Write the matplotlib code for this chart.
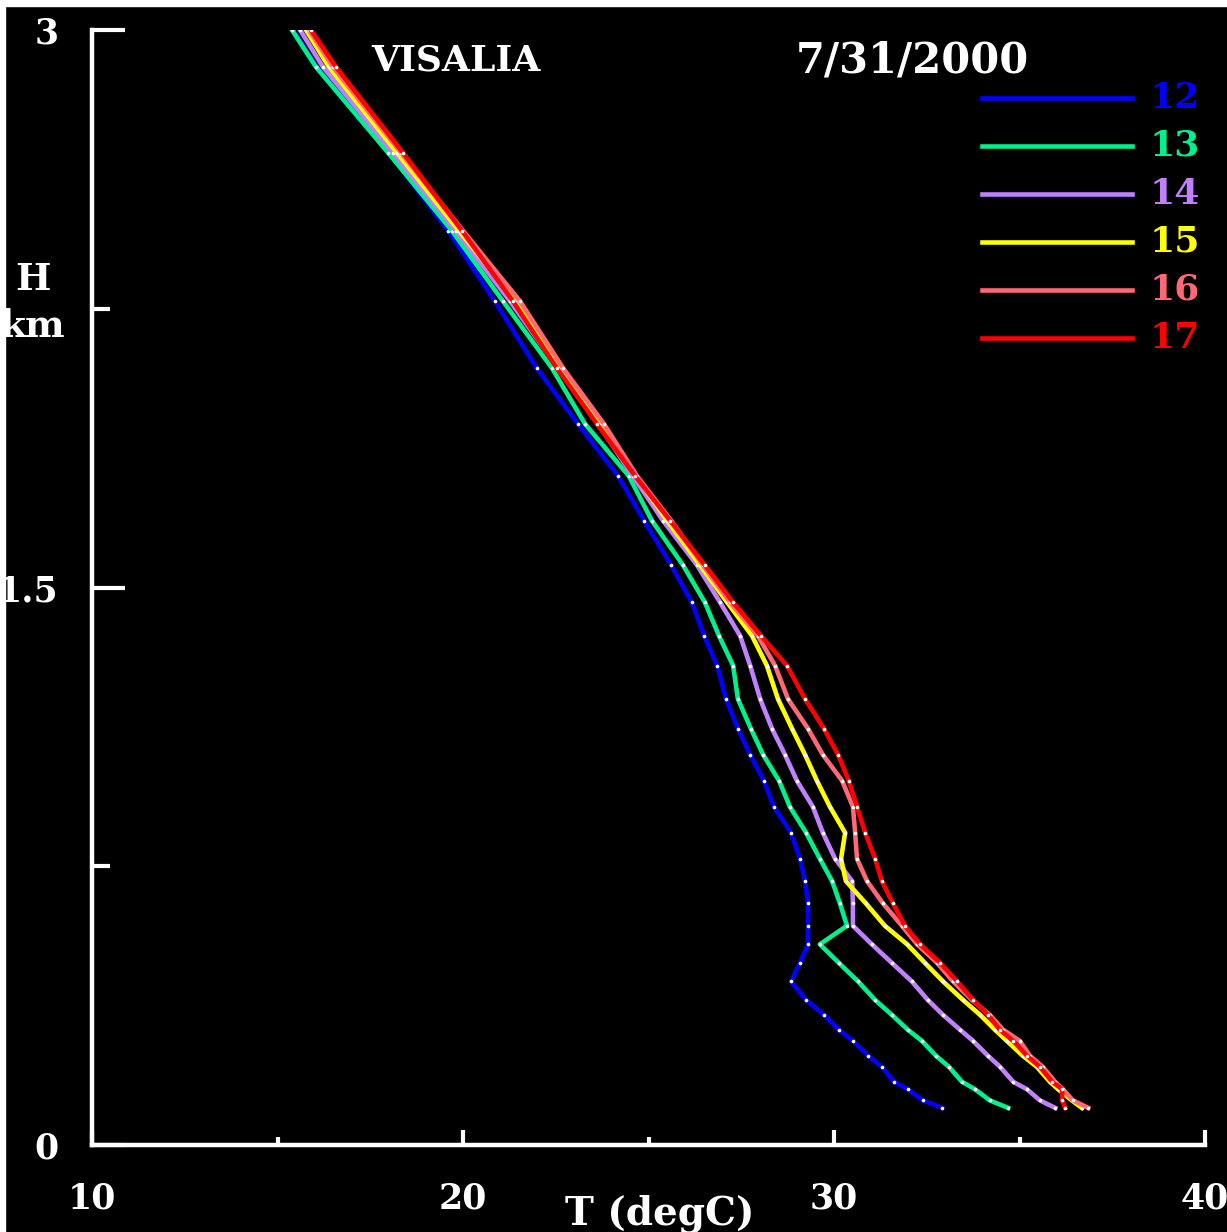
import matplotlib
matplotlib.use("Agg")
import matplotlib.pyplot as plt
from matplotlib.patches import Rectangle

# Heights of the profile levels (km), bottom to top
height = [0.10, 0.12, 0.15, 0.17, 0.21, 0.24, 0.28, 0.31, 0.35, 0.39,
          0.44, 0.49, 0.54, 0.59, 0.65, 0.71, 0.77, 0.84, 0.91, 0.98,
          1.05, 1.12, 1.20, 1.29, 1.37, 1.46, 1.56, 1.68, 1.80, 1.94,
          2.09, 2.27, 2.46, 2.67, 2.90, 3.00]

# Temperature (degC) at each level, one profile per hour
t12 = [32.91, 32.40, 31.99, 31.62, 31.29, 30.92, 30.51, 30.13, 29.73, 29.25,
       28.84, 29.08, 29.30, 29.30, 29.30, 29.22, 29.08, 28.84, 28.38, 28.11,
       27.74, 27.41, 27.09, 26.85, 26.50, 26.17, 25.61, 24.88, 24.18, 23.10,
       21.99, 20.86, 19.60, 18.01, 16.06, 15.42]
t13 = [34.69, 34.20, 33.80, 33.45, 33.10, 32.75, 32.37, 31.99, 31.56, 31.11,
       30.65, 30.13, 29.62, 30.35, 30.16, 29.95, 29.62, 29.25, 28.81, 28.52,
       28.09, 27.76, 27.41, 27.28, 26.90, 26.52, 25.93, 25.09, 24.47, 23.29,
       22.40, 21.08, 19.70, 17.98, 16.04, 15.39]
t14 = [35.96, 35.55, 35.20, 34.83, 34.48, 34.15, 33.75, 33.40, 32.94, 32.53,
       32.10, 31.56, 31.02, 30.51, 30.51, 30.49, 30.03, 29.70, 29.43, 29.00,
       28.68, 28.33, 28.01, 27.74, 27.47, 26.93, 26.31, 25.39, 24.58, 23.64,
       22.56, 21.27, 19.81, 18.11, 16.23, 15.61]
t15 = [36.68, 36.41, 36.04, 35.82, 35.47, 35.09, 34.66, 34.34, 33.94, 33.48,
       32.94, 32.45, 31.97, 31.37, 30.86, 30.32, 30.19, 30.30, 29.89, 29.54,
       29.22, 28.87, 28.49, 28.19, 27.79, 27.12, 26.39, 25.50, 24.66, 23.69,
       22.61, 21.43, 19.89, 18.22, 16.39, 15.77]
t16 = [36.85, 36.44, 36.17, 35.96, 35.63, 35.28, 35.01, 34.56, 34.20, 33.72,
       33.21, 32.78, 32.24, 31.83, 31.32, 30.89, 30.62, 30.57, 30.51, 30.22,
       29.70, 29.30, 28.76, 28.41, 27.95, 27.20, 26.47, 25.61, 24.69, 23.80,
       22.70, 21.54, 20.00, 18.33, 16.50, 15.85]
t17 = [36.23, 36.15, 36.15, 35.88, 35.55, 35.20, 34.83, 34.47, 34.15, 33.75,
       33.32, 32.86, 32.32, 31.91, 31.59, 31.29, 31.11, 30.84, 30.62, 30.40,
       30.11, 29.73, 29.22, 28.73, 28.03, 27.28, 26.52, 25.58, 24.64, 23.61,
       22.53, 21.35, 19.97, 18.38, 16.58, 15.90]

hours = ["12", "13", "14", "15", "16", "17"]
profiles = [t12, t13, t14, t15, t16, t17]
colors = ["#0000ff", "#00f08c", "#c080ff", "#ffff00", "#ff6874", "#ff0000"]

plt.rcParams["font.family"] = "DejaVu Serif"
plt.rcParams["font.weight"] = "bold"
plt.rcParams["axes.labelweight"] = "bold"

fig = plt.figure(figsize=(12.27, 12.32), dpi=100, facecolor="black")
# thin white margin along the top and left edges
fig.patches.append(Rectangle((0, 1 - 6 / 1232), 1, 6 / 1232,
                             transform=fig.transFigure, color="white", zorder=5))
fig.patches.append(Rectangle((0, 0), 5 / 1227, 1,
                             transform=fig.transFigure, color="white", zorder=5))

ax = fig.add_axes([92 / 1227, 87 / 1232, 1113 / 1227, 1115 / 1232])
ax.set_facecolor("black")

for temps, c in zip(profiles, colors):
    ax.plot(temps, height, color=c, lw=3.3, marker="o", ms=1.6,
            mfc="white", mec="white")

ax.set_xlim(10, 40)
ax.set_ylim(0, 3)

for side in ["top", "right"]:
    ax.spines[side].set_visible(False)
for side in ["left", "bottom"]:
    ax.spines[side].set_color("white")
    ax.spines[side].set_linewidth(3.2)

ax.set_xticks([10, 20, 30, 40])
ax.set_xticks([15, 25, 35], minor=True)
ax.set_yticks([0, 1.5, 3])
ax.set_yticklabels(["0", "1.5", "3"])
ax.set_yticks([0.75, 2.25], minor=True)
ax.tick_params(axis="x", which="major", direction="in", length=11, width=3,
               color="white", labelcolor="white", labelsize=25, pad=26)
ax.tick_params(axis="x", which="minor", direction="in", length=6, width=3,
               color="white")
ax.tick_params(axis="y", which="major", direction="in", length=24, width=3,
               color="white", labelcolor="white", labelsize=25, pad=24)
ax.tick_params(axis="y", which="minor", direction="in", length=13, width=3,
               color="white")

ax.set_xlabel("T (degC)", color="white", fontsize=28, va="center")
ax.xaxis.set_label_coords(0.51, -0.062)
ax.set_ylabel("H\nkm", color="white", fontsize=27, rotation=0,
              ha="center", va="center", linespacing=1.35)
ax.yaxis.set_label_coords(-0.053, 0.755)

ax.text(0.327, 0.973, "VISALIA", color="white", fontsize=26,
        ha="center", va="center", transform=ax.transAxes)
ax.text(0.737, 0.973, "7/31/2000", color="white", fontsize=30,
        ha="center", va="center", transform=ax.transAxes)

# hour key in the upper right
for i, (lab, c) in enumerate(zip(hours, colors)):
    y = 0.939 - i * 0.043
    ax.plot([0.800, 0.934], [y, y], color=c, lw=3.3,
            transform=ax.transAxes, clip_on=False)
    ax.text(0.950, y, lab, color=c, fontsize=26, ha="left", va="center",
            transform=ax.transAxes)

fig.savefig("out.png", dpi=100, facecolor=fig.get_facecolor())
